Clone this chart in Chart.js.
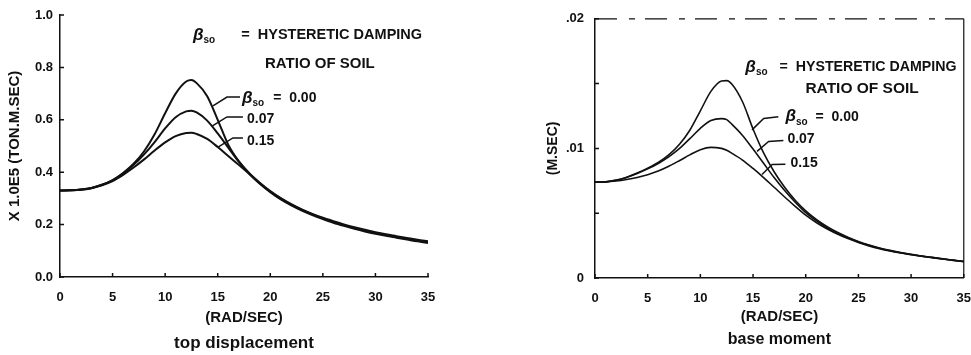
<!DOCTYPE html>
<html>
<head>
<meta charset="utf-8">
<script src="https://cdn.jsdelivr.net/npm/chart.js@4.4.1/dist/chart.umd.min.js"></script>
<style>
  html, body { margin: 0; padding: 0; background: #fff; overflow: hidden; }
  #wrap { position: relative; width: 971px; height: 355px; overflow: hidden; }
  .box { position: absolute; top: 0; height: 355px; }
  #b1 { left: 0; width: 485px; }
  /* wider than the window half: the x-axis keeps room for the "35" label */
  #b2 { left: 485px; width: 499px; }
</style>
</head>
<body>
<div id="wrap">
  <div class="box" id="b1"><canvas id="c1"></canvas></div>
  <div class="box" id="b2"><canvas id="c2"></canvas></div>
</div>
<script>
// frequency (rad/sec), shared by both panels
var freq = [0,1,2,3,4,5,6,7,8,9,10,11,12,12.5,13,14,15,16,17,18,19,20,21,22,23,24,25,26,27,28,29,30,31,32,33,34,35];

// top displacement, x 1.0E5 (ton.m.sec)
var topDisp000 = [0.330,0.331,0.334,0.340,0.352,0.370,0.397,0.432,0.480,0.545,0.625,0.700,0.746,0.752,0.740,0.690,0.600,0.505,0.442,0.396,0.360,0.328,0.301,0.278,0.258,0.241,0.226,0.213,0.201,0.190,0.180,0.171,0.163,0.156,0.149,0.142,0.136];
var topDisp007 = [0.330,0.331,0.334,0.340,0.352,0.369,0.395,0.428,0.468,0.515,0.567,0.610,0.632,0.635,0.628,0.597,0.548,0.494,0.440,0.395,0.358,0.326,0.299,0.276,0.256,0.239,0.224,0.210,0.198,0.187,0.177,0.168,0.160,0.153,0.146,0.139,0.133];
var topDisp015 = [0.330,0.331,0.333,0.339,0.350,0.366,0.390,0.418,0.449,0.483,0.514,0.538,0.550,0.551,0.546,0.527,0.496,0.462,0.428,0.393,0.356,0.324,0.296,0.273,0.253,0.236,0.221,0.207,0.195,0.184,0.174,0.165,0.157,0.150,0.143,0.136,0.130];

// base moment (m.sec)
var baseMom000 = [0.00740,0.00742,0.00755,0.00778,0.00810,0.00848,0.00892,0.00950,0.01030,0.01140,0.01290,0.01440,0.01520,0.01523,0.01495,0.01360,0.01150,0.00965,0.00820,0.00700,0.00600,0.00518,0.00452,0.00398,0.00353,0.00315,0.00282,0.00255,0.00232,0.00213,0.00197,0.00183,0.00170,0.00159,0.00148,0.00138,0.00128];
var baseMom007 = [0.00740,0.00742,0.00754,0.00776,0.00806,0.00842,0.00884,0.00935,0.00998,0.01075,0.01155,0.01215,0.01230,0.01222,0.01185,0.01100,0.00995,0.00885,0.00775,0.00675,0.00585,0.00505,0.00442,0.00390,0.00347,0.00310,0.00278,0.00252,0.00229,0.00210,0.00195,0.00181,0.00169,0.00158,0.00147,0.00137,0.00127];
var baseMom015 = [0.00740,0.00741,0.00748,0.00760,0.00776,0.00797,0.00825,0.00862,0.00905,0.00950,0.00990,0.01008,0.01000,0.00985,0.00962,0.00910,0.00845,0.00775,0.00700,0.00625,0.00553,0.00485,0.00428,0.00380,0.00340,0.00304,0.00274,0.00248,0.00226,0.00208,0.00193,0.00180,0.00168,0.00157,0.00146,0.00136,0.00126];

var dampLabels = ['0.00', '0.07', '0.15'];

var FONT = '"Liberation Sans", Arial, sans-serif';
var INK = '#111';

function pts(ys) {
  return freq.map(function (x, i) { return { x: x, y: ys[i] }; });
}

function series(ys, w) {
  return {
    data: pts(ys),
    borderColor: INK,
    borderWidth: w,
    pointRadius: 0,
    fill: false,
    cubicInterpolationMode: 'monotone'
  };
}

// beta_so label: greek letter, subscript, then text
function betaLabel(ctx, x, y, gapEq, rest, size) {
  ctx.textBaseline = 'middle';
  ctx.textAlign = 'left';
  ctx.font = 'italic bold 17px ' + FONT;
  ctx.fillText('\u03b2', x, y);
  var bx = x + ctx.measureText('\u03b2').width;
  ctx.font = 'bold 10px ' + FONT;
  ctx.fillText('so', bx, y + 5);
  var sx = bx + ctx.measureText('so').width + gapEq;
  ctx.font = 'bold ' + size + 'px ' + FONT;
  ctx.fillText(rest, sx, y);
}

function notesPlugin(notes) {
  return {
    id: 'notes',
    afterDraw: function (chart) {
      var ctx = chart.ctx, xs = chart.scales.x, ys = chart.scales.y, a = chart.chartArea;
      ctx.save();
      ctx.fillStyle = INK;
      ctx.strokeStyle = INK;

      // inward tick marks
      ctx.lineWidth = 1.5;
      ctx.beginPath();
      xs.ticks.forEach(function (t) {
        var px = xs.getPixelForValue(t.value);
        ctx.moveTo(px, a.bottom);
        ctx.lineTo(px, a.bottom - notes.tickLen);
      });
      ys.ticks.forEach(function (t) {
        var py = ys.getPixelForValue(t.value);
        ctx.moveTo(a.left, py);
        ctx.lineTo(a.left + notes.tickLen, py);
      });
      ctx.stroke();

      // top and right frame (second panel only)
      if (notes.frame) {
        ctx.lineWidth = 1.2;
        ctx.beginPath();
        ctx.moveTo(a.right, a.bottom);
        ctx.lineTo(a.right, a.top);
        ctx.stroke();
        ctx.setLineDash([22, 12, 6, 10]);
        ctx.beginPath();
        ctx.moveTo(a.left, a.top);
        ctx.lineTo(a.right, a.top);
        ctx.stroke();
        ctx.setLineDash([]);
      }

      // caption under the axis title
      ctx.textAlign = 'center';
      ctx.textBaseline = 'middle';
      ctx.font = 'bold ' + notes.capSize + 'px ' + FONT;
      ctx.fillText(notes.caption, (a.left + a.right) / 2, chart.height - notes.capFromBottom);
      ctx.textAlign = 'left';

      // legend text
      function P(p) { return [xs.getPixelForValue(p[0]), ys.getPixelForValue(p[1])]; }
      var h1 = P(notes.head1);
      betaLabel(ctx, h1[0], h1[1], notes.headGap, notes.headText, notes.headSize);
      var h2 = P(notes.head2);
      ctx.font = 'bold ' + notes.ratioSize + 'px ' + FONT;
      ctx.fillText('RATIO OF SOIL', h2[0], h2[1]);

      var l0 = P(notes.lab[0]);
      betaLabel(ctx, l0[0], l0[1], notes.labGap, '=  ' + dampLabels[0], 14);
      for (var k = 1; k < 3; k++) {
        var lp = P(notes.lab[k]);
        ctx.font = 'bold 14px ' + FONT;
        ctx.fillText(dampLabels[k], lp[0], lp[1]);
      }

      // leader lines
      ctx.lineWidth = 1.5;
      notes.leaders.forEach(function (ln) {
        ctx.beginPath();
        ln.forEach(function (p, i) {
          var q = P(p);
          if (i === 0) ctx.moveTo(q[0], q[1]); else ctx.lineTo(q[0], q[1]);
        });
        ctx.stroke();
      });
      ctx.restore();
    }
  };
}

function makeChart(id, cfg) {
  return new Chart(document.getElementById(id), {
    type: 'line',
    data: {
      datasets: [
        series(cfg.data[0], cfg.lw),
        series(cfg.data[1], cfg.lw),
        series(cfg.data[2], cfg.lw)
      ]
    },
    options: {
      responsive: true,
      maintainAspectRatio: false,
      animation: false,
      events: [],
      layout: { padding: { left: 0, top: cfg.top, right: cfg.right, bottom: 0 } },
      plugins: { legend: { display: false }, tooltip: { enabled: false } },
      scales: {
        x: {
          type: 'linear',
          min: 0, max: 35,
          afterFit: function (s) { s.height = cfg.xh; },
          border: { display: true, color: INK, width: 1.5 },
          grid: { display: false, drawTicks: false },
          ticks: {
            stepSize: 5,
            padding: 13,
            color: INK,
            font: { family: FONT, size: 13, weight: 'bold' },
            maxRotation: 0
          },
          title: {
            display: true,
            text: '(RAD/SEC)',
            color: INK,
            font: { family: FONT, size: 15, weight: 'bold' },
            padding: { top: 0, bottom: cfg.radPad }
          }
        },
        y: {
          min: cfg.ymin, max: cfg.ymax,
          afterFit: function (s) { s.width = cfg.yw; },
          border: { display: true, color: INK, width: 1.5 },
          grid: { display: false, drawTicks: false },
          ticks: {
            stepSize: cfg.ystep,
            padding: cfg.ypad,
            color: INK,
            font: { family: FONT, size: 13, weight: 'bold' },
            callback: cfg.yfmt
          },
          title: {
            display: true,
            text: cfg.ytitle,
            color: INK,
            font: { family: FONT, size: cfg.ytitleSize, weight: 'bold' },
            padding: { top: cfg.ytitlePad, bottom: 0 }
          }
        }
      }
    },
    plugins: [notesPlugin(cfg.notes)]
  });
}

makeChart('c1', {
  data: [topDisp000, topDisp007, topDisp015],
  lw: 2,
  top: 15, right: 57, xh: 78, yw: 60,
  ymin: 0, ymax: 1.0, ystep: 0.2, ypad: 7,
  yfmt: function (v) { return v.toFixed(1); },
  ytitle: 'X 1.0E5 (TON.M.SEC)', ytitleSize: 15, ytitlePad: 6,
  radPad: 28,
  notes: {
    tickLen: 4, frame: false,
    caption: 'top displacement', capSize: 17, capFromBottom: 12,
    head1: [12.65, 0.924], headGap: 26, headText: '=  HYSTERETIC DAMPING', headSize: 14.5,
    head2: [19.5, 0.813], ratioSize: 15,
    lab: [[17.31, 0.683], [17.79, 0.603], [17.79, 0.519]], labGap: 9,
    leaders: [
      [[14.55, 0.653], [15.88, 0.687], [17.12, 0.687]],
      [[14.46, 0.576], [15.88, 0.611], [17.4, 0.611]],
      [[15.03, 0.496], [16.45, 0.531], [17.4, 0.531]]
    ]
  }
});

makeChart('c2', {
  data: [baseMom000, baseMom007, baseMom015],
  lw: 1.6,
  top: 16, right: 0, xh: 77, yw: 110,
  ymin: 0, ymax: 0.02, ystep: 0.005, ypad: 11,
  yfmt: function (v) {
    var m = Math.round(v * 1000);
    if (m === 0) return '0';
    return m % 10 === 0 ? '.' + ('0' + m / 10).slice(-2) : '';
  },
  ytitle: '(M.SEC)', ytitleSize: 14, ytitlePad: 60,
  radPad: 29,
  notes: {
    tickLen: 4, frame: true,
    caption: 'base moment', capSize: 16, capFromBottom: 15,
    head1: [14.27, 0.01626], headGap: 12, headText: '=  HYSTERETIC DAMPING', headSize: 14.2,
    head2: [19.97, 0.01458], ratioSize: 15.5,
    lab: [[18.07, 0.01244], [18.26, 0.01069], [18.55, 0.00885]], labGap: 8,
    leaders: [
      [[14.9, 0.01143], [16.01, 0.01231], [17.4, 0.01244]],
      [[15.38, 0.00977], [16.48, 0.01053], [17.88, 0.01061]],
      [[15.85, 0.00799], [16.81, 0.00876], [18.07, 0.00878]]
    ]
  }
});
</script>
</body>
</html>
